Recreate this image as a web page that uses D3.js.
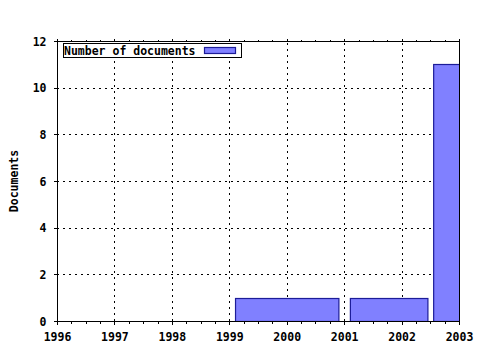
<!DOCTYPE html>
<html><head><meta charset="utf-8">
<script src="https://cdn.jsdelivr.net/npm/d3@7"></script>
<style>body{margin:0;background:#fff}text{font-family:"DejaVu Sans Mono",monospace;font-weight:bold;font-size:11.5px;fill:#000}</style>
</head><body><svg id="c" width="480" height="350"></svg>
<script>
const barStart = [1999.1, 2001.1, 2002.55];
const barEnd = [2000.9, 2002.45, 2003.45];
const barValues = [1, 1, 11];
const xTicks = [1996, 1997, 1998, 1999, 2000, 2001, 2002, 2003];
const yTicks = [0, 2, 4, 6, 8, 10, 12];
const seriesName = "Number of documents";
const yTitle = "Documents";

const svg = d3.select("#c");
const x = d3.scaleLinear().domain([1996, 2003]).range([57, 459]);
const y = d3.scaleLinear().domain([0, 12]).range([321, 41]);
const [x0, x1] = x.range(); const [yb, yt] = y.range();

svg.append("rect").attr("width",480).attr("height",350).attr("fill","#fff");

// grid
const g = svg.append("g").attr("stroke","#000").attr("stroke-width",1).attr("stroke-dasharray","2,4").attr("shape-rendering","crispEdges");
xTicks.slice(1,-1).forEach(t=>g.append("line").attr("x1",Math.round(x(t))+0.5).attr("x2",Math.round(x(t))+0.5).attr("y1",yb).attr("y2",yt));
yTicks.slice(1,-1).forEach(t=>g.append("line").attr("y1",Math.round(y(t))+0.5).attr("y2",Math.round(y(t))+0.5).attr("x1",x0).attr("x2",x1));

// bars
svg.append("clipPath").attr("id","pc").append("rect").attr("x",x0).attr("y",yt).attr("width",x1-x0).attr("height",yb-yt);
svg.append("g").attr("clip-path","url(#pc)").selectAll("rect").data(barValues).join("rect")
  .attr("x",(d,i)=>x(barStart[i])+0.5).attr("width",(d,i)=>x(barEnd[i])-x(barStart[i]))
  .attr("y",d=>Math.round(y(d))+0.5).attr("height",d=>yb-Math.round(y(d)))
  .attr("fill","#8080ff").attr("stroke","#1c1c98").attr("stroke-width",1.2);

// axes
const minor = d3.range(1996, 2003.001, 0.25);
svg.append("g").attr("transform",`translate(0,${yb+0.5})`).call(d3.axisBottom(x).tickValues(minor).tickSize(2).tickFormat("")).call(a=>a.select(".domain").remove());
svg.append("g").attr("transform",`translate(0,${yb+0.5})`).call(d3.axisBottom(x).tickValues(xTicks).tickSize(3).tickPadding(8).tickFormat(d3.format("d")))
  .call(a=>{a.select(".domain").remove();});
svg.append("g").attr("transform",`translate(0,${yt+0.5})`).call(d3.axisTop(x).tickValues(minor).tickSize(2).tickFormat("")).call(a=>a.select(".domain").remove());
svg.append("g").attr("transform",`translate(0,${yt+0.5})`).call(d3.axisTop(x).tickValues(xTicks).tickSize(3).tickFormat("")).call(a=>a.select(".domain").remove());
svg.append("g").attr("transform",`translate(${x0+0.5},0)`).call(d3.axisLeft(y).tickValues(yTicks).tickSize(4).tickPadding(7).tickFormat(d3.format("d")))
  .call(a=>{a.select(".domain").remove();a.selectAll("text").attr("dy","0.36em");});
svg.selectAll(".tick line").attr("shape-rendering","crispEdges");
svg.selectAll("g").filter(function(){return this.getAttribute("font-family")}).attr("font-family",null).attr("font-size",null);

// frame
svg.append("rect").attr("x",x0+0.5).attr("y",yt+0.5).attr("width",x1-x0).attr("height",yb-yt)
  .attr("fill","none").attr("stroke","#000").attr("shape-rendering","crispEdges");

// y title
svg.append("text").attr("transform",`translate(18,${(yb+yt)/2}) rotate(-90)`).attr("text-anchor","middle").text(yTitle);

// legend
const lg = svg.append("g");
lg.append("rect").attr("x",63.5).attr("y",43.5).attr("width",178).attr("height",14).attr("fill","#fff").attr("stroke","#000").attr("shape-rendering","crispEdges");
lg.append("text").attr("x",64).attr("y",55).text(seriesName);
lg.append("rect").attr("x",204.5).attr("y",47.5).attr("width",31).attr("height",6).attr("fill","#8080ff").attr("stroke","#1c1c98").attr("stroke-width",1.2);
</script></body></html>
